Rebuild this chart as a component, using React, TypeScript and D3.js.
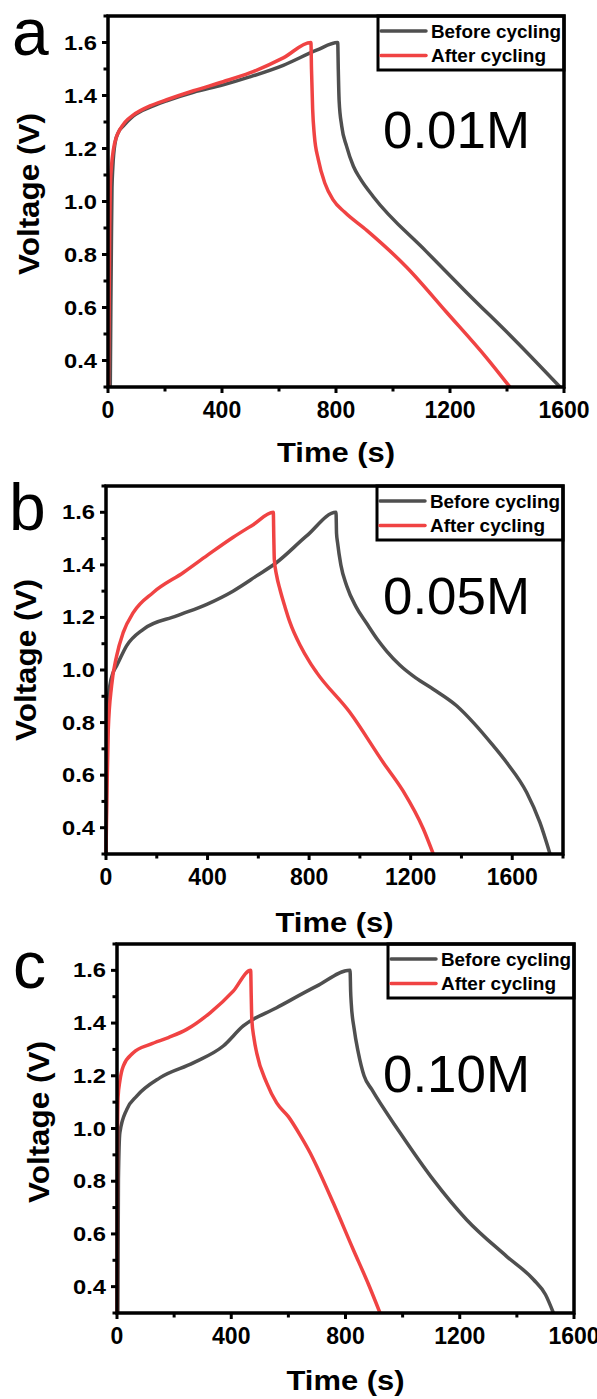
import React from 'react';
import * as d3 from 'd3';

// [time (s), voltage (V)]
const beforeA = [[8,0.3],[10,0.6],[12,0.85],[14,1.05],[17,1.13],[25,1.222],[36,1.26],[54,1.285],[88,1.322],[150,1.357],[206,1.38],[300,1.412],[404,1.44],[497,1.47],[615,1.514],[732,1.571],[806,1.6],
  [808,1.5],[811,1.38],[820,1.285],[837,1.209],[861,1.133],[884,1.088],[931,1.018],[1118,0.81],[1259,0.656],[1434,0.47],[1586,0.3]];
const afterA = [[2,0.3],[4,0.6],[6,0.9],[8,1.05],[12,1.13],[19,1.196],[30,1.245],[42,1.272],[60,1.3],[88,1.326],[150,1.362],[206,1.384],[300,1.418],[404,1.452],[497,1.485],[615,1.542],[712,1.6],
  [714,1.5],[718,1.35],[724,1.25],[738,1.158],[761,1.069],[790,1.006],[830,0.96],[908,0.891],[1048,0.752],[1188,0.582],[1329,0.409],[1410,0.3]];

const beforeB = [[0,0.3],[2,0.55],[3,0.81],[15,0.94],[28,0.99],[42,1.016],[81,1.092],[147,1.155],[278,1.206],[397,1.25],[500,1.3],[593,1.358],[672,1.409],[790,1.51],[906,1.6],
  [908,1.52],[912,1.485],[925,1.4],[948,1.32],[985,1.24],[1027,1.177],[1070,1.115],[1105,1.072],[1158,1.018],[1220,0.97],[1289,0.927],[1381,0.864],[1447,0.8],[1526,0.711],[1578,0.648],[1657,0.534],[1709,0.42],[1749,0.3]];
const afterB = [[0,0.3],[4,0.55],[9,0.775],[22,0.94],[42,1.054],[68,1.143],[108,1.219],[186,1.295],[305,1.371],[400,1.437],[501,1.505],[580,1.553],[659,1.6],
  [661,1.5],[663,1.42],[672,1.36],[685,1.307],[705,1.24],[725,1.18],[764,1.095],[803,1.029],[830,0.99],[961,0.838],[1092,0.648],[1170,0.54],[1250,0.395],[1289,0.3]];

const beforeC = [[3,0.3],[5,0.806],[10,0.984],[34,1.072],[69,1.123],[151,1.193],[267,1.249],[372,1.313],[442,1.389],[559,1.458],[699,1.54],[816,1.6],
  [818,1.52],[820,1.477],[830,1.38],[845,1.287],[865,1.2],[892,1.148],[991,0.984],[1107,0.806],[1224,0.654],[1364,0.515],[1458,0.427],[1500,0.37],[1528,0.3]];
const afterC = [[0,0.3],[1,0.7],[2,1.0],[4,1.123],[10,1.18],[22,1.237],[57,1.287],[116,1.319],[180,1.345],[244,1.376],[326,1.439],[407,1.521],[468,1.6],
  [470,1.5],[472,1.414],[480,1.34],[489,1.287],[524,1.173],[559,1.097],[600,1.045],[641,0.975],[676,0.908],[700,0.855],[757,0.718],[827,0.541],[880,0.41],[921,0.3]];

const seriesNames = ['Before cycling', 'After cycling'];
const xTicks = [0, 400, 800, 1200, 1600];
const xMinor = [200, 600, 1000, 1400, 1800];
const yTicks = [0.4, 0.6, 0.8, 1.0, 1.2, 1.4, 1.6];
const yMinor = [0.3, 0.5, 0.7, 0.9, 1.1, 1.3, 1.5, 1.7];

const GRAY = '#4f4f4f';
const RED = '#f04343';
const FONT = '"Liberation Sans", Arial, sans-serif';

const panels = [
  { letter: 'a', conc: '0.01M', before: beforeA, after: afterA, xMax: 1600,
    left: 108, right: 564, top: 16, bottom: 387,
    letterPos: [12, 55], concPos: [383, 148], yLab: [39, 194], xLabY: 462 },
  { letter: 'b', conc: '0.05M', before: beforeB, after: afterB, xMax: 1800,
    left: 106, right: 563, top: 486, bottom: 854,
    letterPos: [9, 530], concPos: [383, 614], yLab: [36, 660], xLabY: 932 },
  { letter: 'c', conc: '0.10M', before: beforeC, after: afterC, xMax: 1600,
    left: 117, right: 574, top: 944, bottom: 1313,
    letterPos: [13, 988], concPos: [383, 1092], yLab: [49, 1122], xLabY: 1390 },
];

const Panel = (p) => {
  const x = d3.scaleLinear().domain([0, p.xMax]).range([p.left, p.right]);
  const y = d3.scaleLinear().domain([0.3, 1.7]).range([p.bottom, p.top]);
  const line = d3.line().x(d => x(d[0])).y(d => y(d[1])).curve(d3.curveMonotoneX);
  const lx = p.right - 186;
  const rows = [p.top + 15, p.top + 39.5];
  const cx = (p.left + p.right) / 2;
  return (
    <g fontFamily={FONT}>
      <path d={line(p.before)} fill="none" stroke={GRAY} strokeWidth={3.5} strokeLinejoin="round" />
      <path d={line(p.after)} fill="none" stroke={RED} strokeWidth={3.5} strokeLinejoin="round" />
      {yTicks.map(v => (
        <g key={'y' + v}>
          <line x1={p.left - 6} x2={p.left} y1={y(v)} y2={y(v)} stroke="#000" strokeWidth={3} />
          <text x={p.left - 11} y={y(v) + 7} textAnchor="end" fontSize={20} fontWeight="bold" textLength={33} lengthAdjust="spacingAndGlyphs">{v.toFixed(1)}</text>
        </g>
      ))}
      {yMinor.map(v => (
        <line key={'ym' + v} x1={p.left - 4.5} x2={p.left} y1={y(v)} y2={y(v)} stroke="#000" strokeWidth={3} />
      ))}
      {xTicks.map(v => (
        <g key={'x' + v}>
          <line x1={x(v)} x2={x(v)} y1={p.bottom} y2={p.bottom + 6} stroke="#000" strokeWidth={3} />
          <text x={x(v)} y={p.bottom + 31} textAnchor="middle" fontSize={23} fontWeight="bold">{v}</text>
        </g>
      ))}
      {xMinor.filter(v => v <= p.xMax).map(v => (
        <line key={'xm' + v} x1={x(v)} x2={x(v)} y1={p.bottom} y2={p.bottom + 4.5} stroke="#000" strokeWidth={3} />
      ))}
      <text x={cx} y={p.xLabY} textAnchor="middle" fontSize={28} fontWeight="bold" textLength={118} lengthAdjust="spacingAndGlyphs">Time (s)</text>
      <text transform={`translate(${p.yLab[0]},${p.yLab[1]}) rotate(-90)`} textAnchor="middle" fontSize={30} fontWeight="bold" textLength={162} lengthAdjust="spacingAndGlyphs">Voltage (V)</text>
      <text x={p.letterPos[0]} y={p.letterPos[1]} fontSize={66}>{p.letter}</text>
      <text x={p.concPos[0]} y={p.concPos[1]} fontSize={51} textLength={147} lengthAdjust="spacingAndGlyphs">{p.conc}</text>
      <rect x={lx} y={p.top} width={186} height={54} fill="#fff" stroke="#000" strokeWidth={3} />
      <rect x={p.left} y={p.top} width={p.right - p.left} height={p.bottom - p.top} fill="none" stroke="#000" strokeWidth={3.5} />
      {seriesNames.map((name, i) => (
        <g key={name}>
          <line x1={lx + 3} x2={lx + 48} y1={rows[i]} y2={rows[i]} stroke={i === 0 ? GRAY : RED} strokeWidth={3.5} strokeLinecap="round" />
          <text x={lx + 53} y={rows[i] + 6.5} fontSize={18} fontWeight="bold" textLength={i === 0 ? 130 : 115} lengthAdjust="spacingAndGlyphs">{name}</text>
        </g>
      ))}
    </g>
  );
};

export default function App() {
  return (
    <svg width={597} height={1399} style={{ position: 'absolute', left: 0, top: 0, background: '#fff' }}>
      {panels.map(p => <Panel key={p.letter} {...p} />)}
    </svg>
  );
}
